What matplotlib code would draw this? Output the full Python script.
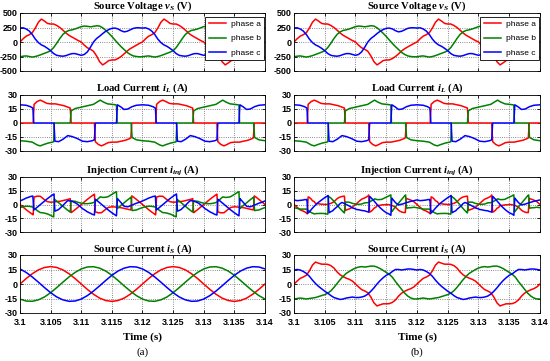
import numpy as np
import matplotlib
matplotlib.use('Agg')
import matplotlib.pyplot as plt

plt.rcParams['font.family'] = 'Liberation Sans'
plt.rcParams['font.weight'] = 'bold'
plt.rcParams['axes.unicode_minus'] = False
plt.rcParams['mathtext.fontset'] = 'custom'
plt.rcParams['mathtext.rm'] = 'Liberation Serif:bold'
plt.rcParams['mathtext.it'] = 'Liberation Serif:italic:bold'

# one 20 ms period of each waveform, times in ms from 3.1 s
volt_t = np.arange(0, 20.5, 0.5)
volt_a = [0, 55, 100, 125, 160, 240, 340, 395, 360, 320, 310, 310, 285, 250, 205, 155, 115, 85, 55, 25, 0,
          -55, -100, -125, -160, -240, -340, -395, -360, -320, -310, -310, -285, -250, -205, -155, -115, -85, -55, -25, 0]
volt_b = [-255, -245, -240, -250, -260, -250, -235, -215, -195, -175, -150, -95, -20, 60, 130, 175, 200, 210, 225, 245, 265,
          275, 270, 262, 270, 280, 275, 245, 200, 150, 95, 35, -25, -80, -130, -180, -215, -240, -250, -255, -255]
volt_c = [240, 245, 225, 190, 130, 50, -10, -50, -75, -110, -150, -200, -230, -240, -245, -235, -215, -200, -200, -215, -230,
          -215, -170, -90, 0, 60, 100, 145, 185, 215, 235, 240, 225, 195, 175, 185, 210, 235, 245, 245, 240]

# load current (same in both cases)
load_t_a = [0, 2.15, 2.3, 2.8, 3.3, 3.8, 4.4, 5.0, 5.8, 6.5, 7.2, 7.8, 8.2, 8.35, 12.15, 12.3, 12.8, 13.3, 13.8, 14.4,
            15.0, 15.8, 16.5, 17.2, 17.8, 18.1, 18.25, 20]
load_a = [0, 0, 20, 23, 24.5, 23, 21, 20.5, 20.5, 19.5, 18.5, 17, 16, 0, 0, -20, -23, -24.5, -23, -21,
          -20.5, -20.5, -19.5, -18.5, -17, -16, 0, 0]
load_t_b = [0, 1, 2, 2.8, 3.3, 3.9, 4.6, 5.3, 5.5, 5.6, 8.2, 8.35, 9, 10, 11, 12, 12.6, 13.1, 13.6, 14.3, 15, 15.6,
            15.75, 15.85, 18.15, 18.3, 19, 20]
load_b = [-19, -19.5, -20.5, -23.5, -24.5, -23, -21.5, -20.5, -20, 0, 0, 13, 15.5, 17, 18.5, 20, 22.5, 24.5, 22.5, 20.5,
          20, 19.5, 19, 0, 0, -15.5, -18, -19]
load_t_c = [0, 1, 1.7, 2.1, 2.25, 5.55, 5.7, 6.3, 7, 7.8, 8.5, 9.3, 10.2, 11, 11.8, 12.15, 12.3, 15.75, 15.9, 16.4, 17,
            17.6, 18.3, 19, 20]
load_c = [19.5, 19, 17.5, 16, 0, 0, -19.5, -20, -17.5, -13.5, -14.5, -16.5, -19.5, -20, -19, -18, 0, 0, 19.5, 17.5, 14.5,
          15, 17.5, 19, 19.5]

# injection current, case (a) = inj1, case (b) = inj2
inj_t_a = [0, 0.5, 1, 1.5, 2, 2.15, 2.3, 2.5, 2.8, 3, 3.3, 3.5, 3.8, 4, 4.4, 4.5, 5, 5.5, 5.8, 6, 6.5, 7, 7.2, 7.5, 7.8,
           8, 8.2, 8.35, 8.5, 9, 9.5, 10, 10.5, 11, 11.5, 12, 12.15, 12.3, 12.5, 12.8, 13, 13.3, 13.5, 13.8, 14, 14.4,
           14.5, 15, 15.5, 15.8, 16, 16.5, 17, 17.2, 17.5, 17.8, 18, 18.1, 18.25, 18.5, 19, 19.5, 20]
inj1_a = [0.0, -2.8, -5.6, -8.2, -10.6, -11.3, 8.1, 8.5, 9.1, 9.0, 9.0, 7.9, 6.3, 5.2, 3.3, 3.1, 2.5, 2.7, 3.1, 3.1, 3.5,
          4.2, 4.6, 5.0, 5.5, 5.9, 6.4, -8.9, -8.2, -5.6, -2.8, 0.0, 2.8, 5.6, 8.2, 10.6, 11.3, -8.1, -8.5, -9.1, -9.0,
          -9.0, -7.9, -6.3, -5.2, -3.3, -3.1, -2.5, -2.7, -3.1, -3.1, -3.5, -4.2, -4.6, -5.0, -5.5, -5.8, -5.9, 9.4, 8.2,
          5.6, 2.8, 0.0]
inj2_a = [0.0, -3.0, -5.8, -7.2, -9.0, -10.3, 8.3, 7.7, 5.9, 4.1, 3.1, 1.2, 1.0, 0.8, 0.3, 0.4, 0.0, 0.2, 1.0, 1.2, 3.0,
          6.3, 7.2, 8.2, 8.7, 9.0, 9.1, -6.5, -6.0, -4.8, -3.0, 0.0, 3.0, 5.8, 7.2, 9.0, 10.4, -8.3, -7.7, -5.9, -4.1,
          -3.1, -1.2, -1.0, -0.8, -0.3, -0.4, 0.0, -0.2, -1.0, -1.2, -3.0, -6.3, -7.2, -8.2, -8.7, -8.8, -8.8, 6.8, 6.0,
          4.8, 3.0, 0.0]
inj_t_b = [0, 0.5, 1, 1.5, 2, 2.5, 2.8, 3, 3.3, 3.5, 3.9, 4, 4.5, 4.6, 5, 5.3, 5.5, 5.6, 6, 6.5, 7, 7.5, 8, 8.2, 8.35,
           8.5, 9, 9.5, 10, 10.5, 11, 11.5, 12, 12.5, 12.6, 13, 13.1, 13.5, 13.6, 14, 14.3, 14.5, 15, 15.5, 15.6, 15.75,
           15.85, 16, 16.5, 17, 17.5, 18, 18.15, 18.3, 18.5, 19, 19.5, 20]
inj1_b = [-3.4, -2.4, -1.9, -2.0, -2.6, -5.0, -6.6, -7.5, -8.8, -8.9, -9.3, -9.4, -10.4, -10.6, -11.9, -13.0, -13.5, 5.9,
          3.7, 0.9, -1.9, -4.7, -7.3, -8.3, 3.9, 3.8, 3.5, 2.3, 1.4, 0.9, 0.9, 1.3, 2.1, 4.7, 5.3, 7.7, 8.3, 7.8, 7.7, 8.0,
          8.3, 9.0, 11.0, 13.1, 13.6, 13.9, -4.6, -3.7, -0.9, 1.9, 4.7, 7.3, 8.1, -6.7, -6.4, -6.0, -4.5, -3.4]
inj2_b = [-3.5, -4.2, -5.0, -5.0, -5.0, -7.4, -8.8, -9.4, -10.3, -10.0, -9.8, -9.8, -9.7, -9.7, -9.9, -10.4, -10.5, 9.0,
          7.0, 3.5, -0.5, -4.5, -8.0, -9.2, 2.9, 2.6, 2.5, 1.2, 0.5, 0.2, 0.5, 1.8, 2.0, 3.6, 4.0, 5.6, 6.2, 5.4, 5.3, 5.4,
          5.7, 6.4, 8.0, 9.6, 10.1, 10.5, -7.9, -7.0, -2.5, 1.5, 5.5, 9.5, 10.4, -4.2, -3.7, -3.5, -3.0, -3.5]
inj_t_c = [0, 0.5, 1, 1.5, 1.7, 2, 2.1, 2.25, 2.5, 3, 3.5, 4, 4.5, 5, 5.5, 5.55, 5.7, 6, 6.3, 6.5, 7, 7.5, 7.8, 8, 8.5,
           9, 9.3, 9.5, 10, 10.2, 10.5, 11, 11.5, 11.8, 12, 12.15, 12.3, 12.5, 13, 13.5, 14, 14.5, 15, 15.5, 15.75,
           15.9, 16, 16.4, 16.5, 17, 17.5, 17.6, 18, 18.3, 18.5, 19, 19.5, 20]
inj1_c = [3.9, 5.3, 7.0, 8.1, 8.7, 9.1, 9.2, -6.0, -4.7, -1.9, 0.9, 3.7, 6.5, 9.0, 11.3, 11.5, -7.3, -6.4, -5.5, -4.2,
          -1.1, 2.4, 4.2, 4.1, 3.5, 1.9, 0.7, -0.4, -3.2, -4.5, -5.7, -8.0, -9.6, -10.7, -11.1, -11.5, 5.7, 4.7, 1.9, -0.9,
          -3.7, -6.5, -9.0, -11.3, -12.4, 6.5, 5.7, 2.7, 1.9, -1.9, -2.5, -2.5, -1.5, -0.5, 0.0, 1.4, 2.4, 3.9]
inj2_c = [5.0, 4.2, 4.5, 4.9, 5.3, 5.4, 5.6, -9.5, -8.0, -4.0, -0.5, 2.5, 5.0, 7.5, 9.5, 9.8, -9.0, -7.8, -6.8, -5.3,
          -2.5, 1.0, 2.2, 1.7, 0.0, -1.7, -2.8, -3.7, -4.8, -5.5, -5.7, -6.5, -6.9, -7.7, -7.9, -8.4, 8.7, 7.5, 4.0, 0.0,
          -3.5, -6.5, -9.0, -10.5, -11.8, 7.0, 6.1, 2.9, 2.0, -0.5, 0.4, 0.4, 1.4, 2.2, 2.4, 3.5, 4.2, 5.0]

# source current, case (a)
src1_t = np.arange(0, 21, 1.0)
src1_a = [0, 5.6, 10.6, 14.6, 17.1, 18, 17.1, 14.6, 10.6, 5.6, 0, -5.6, -10.6, -14.6, -17.1, -18, -17.1, -14.6, -10.6, -5.6, 0]
src1_b = [-15.6, -17.6, -17.9, -16.4, -13.4, -9, -3.7, 1.9, 7.3, 12.0, 15.6, 17.6, 17.9, 16.4, 13.4, 9, 3.7, -1.9, -7.3, -12.0, -15.6]
src1_c = [15.6, 12.0, 7.3, 1.9, -3.7, -9, -13.4, -16.4, -17.9, -17.6, -15.6, -12.0, -7.3, -1.9, 3.7, 9, 13.4, 16.4, 17.9, 17.6, 15.6]

# source current, case (b)
src2_t = np.arange(0, 20.5, 0.5)
src2_a = [0, 3, 5.8, 7.2, 9, 13.5, 19.5, 22.7, 21.5, 20.5, 20.5, 20.3, 19, 16.5, 12.5, 9.5, 7.5, 6, 4.8, 3, 0,
          -3, -5.8, -7.2, -9, -13.5, -19.5, -22.7, -21.5, -20.5, -20.5, -20.3, -19, -16.5, -12.5, -9.5, -7.5, -6, -4.8, -3, 0]
src2_b = [-15.5, -15, -14.5, -15, -15.5, -15, -14.5, -14, -13, -12, -11, -9.5, -7, -3.5, 0.5, 4.5, 8, 11, 13, 15, 16.5,
          17.5, 18, 17.5, 18, 18.5, 18.5, 17.5, 16, 14, 12, 10, 7, 2.5, -1.5, -5.5, -9.5, -12.5, -14.5, -15.5, -15.5]
src2_c = [14.5, 15, 14.5, 13, 11, 8, 4, 0.5, -2.5, -5, -7.5, -9.5, -12, -14, -15, -16, -15.5, -14.5, -14, -13.5, -14,
          -14, -13.5, -12.5, -10.5, -7.5, -4, 0, 3.5, 6.5, 9, 10.5, 13, 15, 15, 14.5, 15, 15.5, 15.5, 15, 14.5]

RED, GREEN, BLUE = '#ff0000', '#008000', '#0000ff'


def periodic(t, v):
    # the window 3.1-3.14 s holds two identical periods
    t = np.asarray(t, float)
    v = np.asarray(v, float)
    return 3.1 + np.concatenate([t, t[1:] + 20.0]) / 1000.0, np.concatenate([v, v[1:]])


fig = plt.figure(figsize=(5.5, 3.61), dpi=100)
rows = [(13, 71), (95, 151), (177, 232), (255, 313)]
cols = [(20, 265), (294, 540)]
titles = [r'Source Voltage $v_S$ (V)', r'Load Current $i_L$ (A)',
          r'Injection Current $i_{inj}$ (A)', r'Source Current $i_S$ (A)']

for c, (x0, x1) in enumerate(cols):
    for r, (y0, y1) in enumerate(rows):
        ax = fig.add_axes([x0 / 550, 1 - y1 / 361, (x1 - x0) / 550, (y1 - y0) / 361])
        if r == 0:
            series = [(volt_t, volt_a), (volt_t, volt_b), (volt_t, volt_c)]
        elif r == 1:
            series = [(load_t_a, load_a), (load_t_b, load_b), (load_t_c, load_c)]
        elif r == 2:
            if c == 0:
                series = [(inj_t_a, inj1_a), (inj_t_b, inj1_b), (inj_t_c, inj1_c)]
            else:
                series = [(inj_t_a, inj2_a), (inj_t_b, inj2_b), (inj_t_c, inj2_c)]
        else:
            if c == 0:
                series = [(src1_t, src1_a), (src1_t, src1_b), (src1_t, src1_c)]
            else:
                series = [(src2_t, src2_a), (src2_t, src2_b), (src2_t, src2_c)]
        for (t, v), col, lab in zip(series, [RED, GREEN, BLUE], ['phase a', 'phase b', 'phase c']):
            x, y = periodic(t, v)
            ax.plot(x, y, color=col, lw=1.1, label=lab)
        ax.set_xlim(3.1, 3.14)
        ax.set_xticks(np.arange(3.1, 3.1401, 0.005))
        if r == 0:
            ax.set_ylim(-500, 500)
            ax.set_yticks([-500, -250, 0, 250, 500])
            leg = ax.legend(loc='upper right', bbox_to_anchor=(0.997, 0.935), borderaxespad=0,
                            frameon=True, fancybox=False, handlelength=2.0, handletextpad=0.6,
                            labelspacing=0.75, borderpad=0.45,
                            prop={'family': 'Liberation Sans', 'weight': 'normal', 'size': 6})
            leg.get_frame().set_edgecolor('black')
            leg.get_frame().set_linewidth(0.6)
            leg.get_frame().set_alpha(1)
        else:
            ax.set_ylim(-30, 30)
            ax.set_yticks([-30, -15, 0, 15, 30])
        if r == 3:
            ax.set_xticklabels(['3.1', '3.105', '3.11', '3.115', '3.12', '3.125', '3.13', '3.135', '3.14'])
            ax.set_xlabel('Time (s)', family='Liberation Serif', fontsize=8, weight='bold', labelpad=4)
        else:
            ax.set_xticklabels([])
        ax.grid(True, linestyle=':', color='#666666', lw=0.6)
        ax.tick_params(direction='in', length=2.5, width=0.6, labelsize=6.5, top=True, right=True)
        ax.tick_params(axis='y', pad=1.5)
        ax.tick_params(axis='x', pad=3.5)
        for s in ax.spines.values():
            s.set_linewidth(0.6)
        ax.set_title(titles[r], family='Liberation Serif', fontsize=7.7, weight='bold', pad=2)
    fig.text((x0 + x1) / 2 / 550, 1 - 352 / 361, '(a)' if c == 0 else '(b)', ha='center', va='center',
             family='Liberation Serif', fontsize=8, weight='normal')

fig.savefig('out.png', dpi=100)
